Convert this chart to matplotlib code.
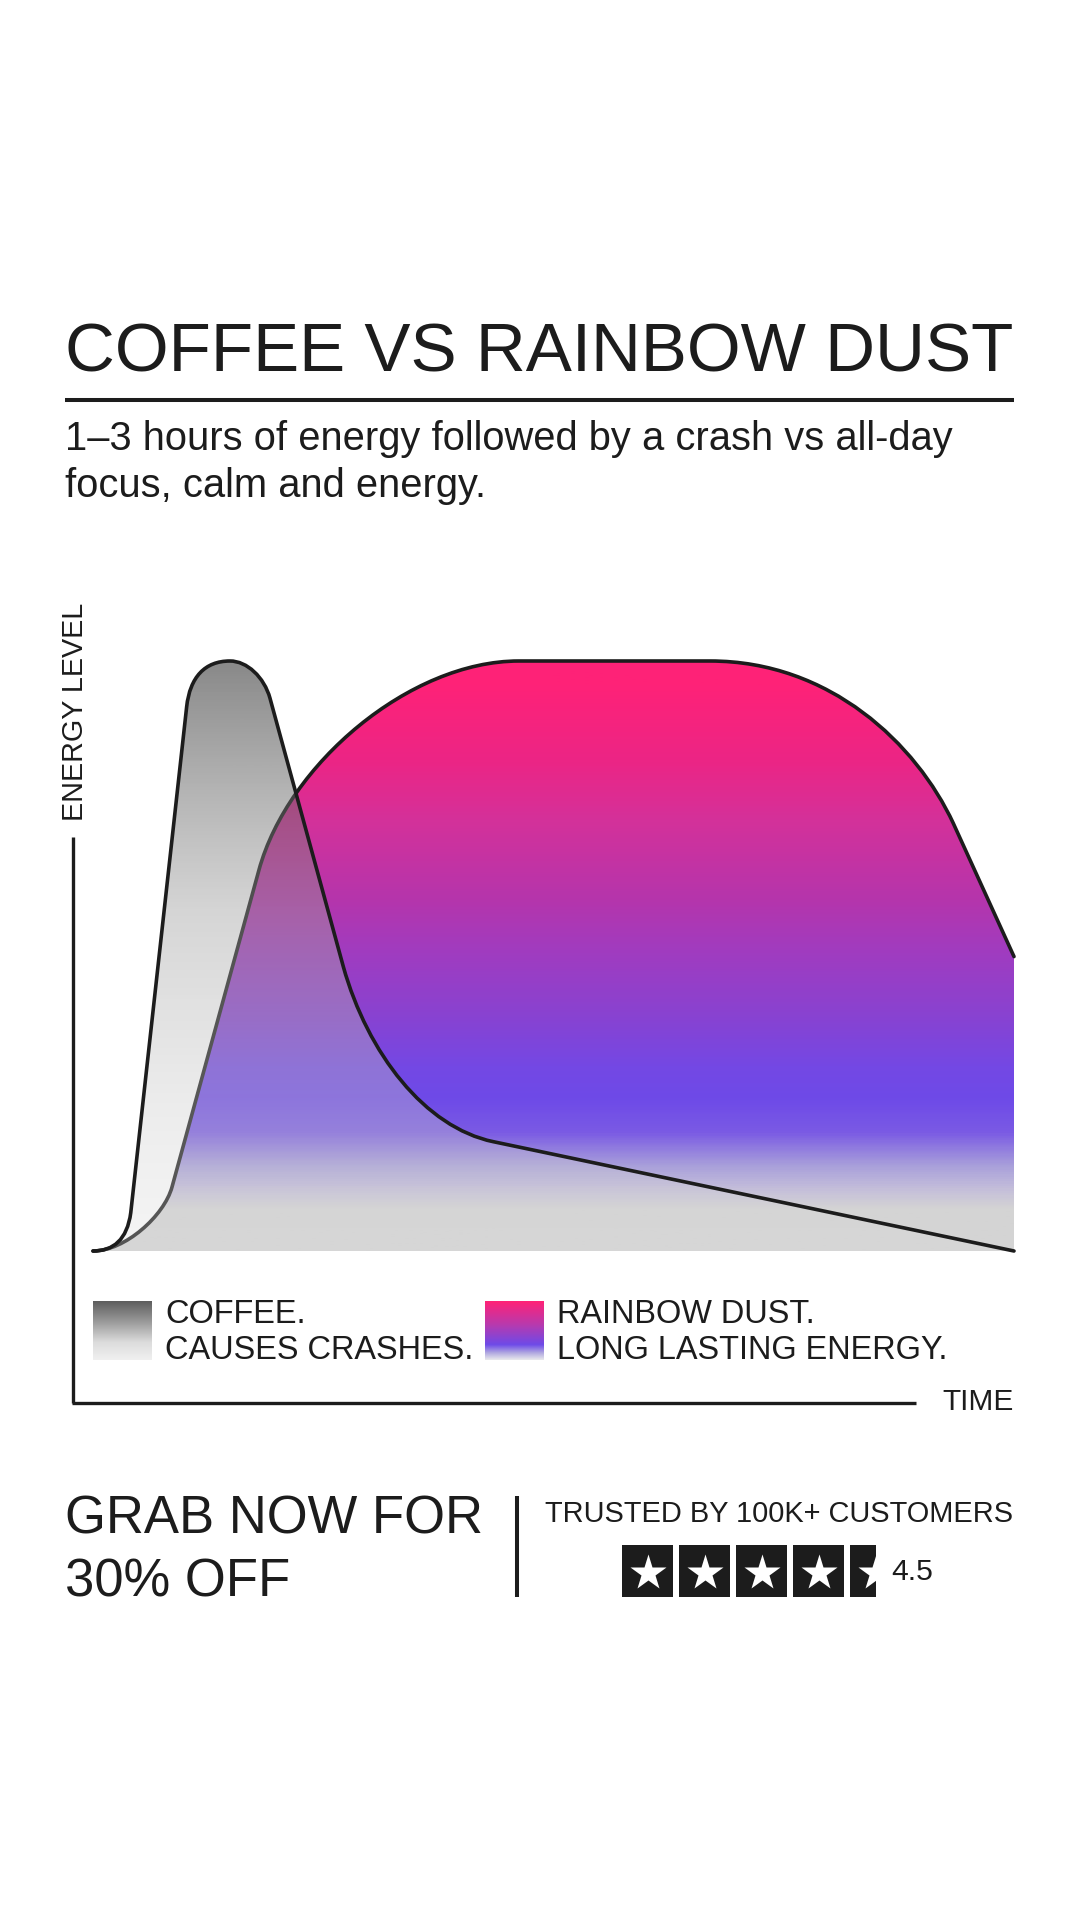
import numpy as np
import matplotlib
matplotlib.use("Agg")
import matplotlib.pyplot as plt
from matplotlib.path import Path
from matplotlib.patches import PathPatch, Rectangle
from matplotlib.colors import LinearSegmentedColormap

plt.rcParams["font.family"] = ["Liberation Sans", "DejaVu Sans"]
INK = "#1c1c1c"

# ── data: curve outlines as (time, energy) control points, 0..100 ──
# codes: M = move, L = line, C = cubic bezier control/end point
coffee_time = [0, 2.2, 3.7, 4.1, 10.17, 10.53, 12.16, 14.87, 16.72, 18.58, 19.22,
               27.18, 29.82, 36.03, 43.46, 100]
coffee_energy = [0, 0, 1.9, 6.5, 92.25, 97.3, 100, 100, 100, 97.27, 93.68,
                 48.19, 33.49, 20.95, 18.53, 0]
coffee_codes = "MCCCLCCCCCCLCCCL"

rainbow_time = [0, 3.47, 7.72, 8.58, 18.02, 21.17, 34.42, 46.24, 67.0, 80.02, 89.4,
                93.41, 100]
rainbow_energy = [0, 0, 5.95, 10.85, 64.58, 82.54, 100, 100, 100, 100, 85.93,
                  72.49, 49.9]
rainbow_codes = "MCCCLCCCLCCCL"

title = "COFFEE VS RAINBOW DUST"
subtitle = ["1\u20133 hours of energy followed by a crash vs all-day",
            "focus, calm and energy."]
y_label = "ENERGY LEVEL"
x_label = "TIME"
legend_lines = [["COFFEE.", "CAUSES CRASHES."],
                ["RAINBOW DUST.", "LONG LASTING ENERGY."]]
offer_lines = ["GRAB NOW FOR", "30% OFF"]
trust_text = "TRUSTED BY 100K+ CUSTOMERS"
rating = 4.5
n_stars = 5

# gradient stops (position from bottom, colour)
rainbow_stops = [(0.0, "#d4d4d4"), (0.069, "#d4d4d4"), (0.103, "#c4beda"),
                 (0.142, "#a9a0da"), (0.20, "#7a5ae4"), (0.256, "#6e4ae8"),
                 (0.312, "#7448e4"), (0.403, "#8a42d0"), (0.505, "#a03cc0"),
                 (0.595, "#b535ac"), (0.73, "#d4319a"), (0.832, "#ec2585"),
                 (0.958, "#fe2278"), (1.0, "#ff2277")]
# coffee layer: grey value + alpha, so it looks opaque on white and tints the pink
coffee_stops = [(0.0, 222, 0.30), (0.25, 201, 0.35), (0.57, 157, 0.42),
                (0.80, 97, 0.50), (1.0, 39, 0.55)]

CODE = {"M": Path.MOVETO, "L": Path.LINETO, "C": Path.CURVE4}


def make_path(xs, ys, codes, close_to=None):
    verts = list(zip(xs, ys))
    cds = [CODE[c] for c in codes]
    if close_to is not None:
        verts += [close_to, verts[0]]
        cds += [Path.LINETO, Path.CLOSEPOLY]
    return Path(verts, cds)


fig = plt.figure(figsize=(10.8, 19.2), dpi=100)
fig.patch.set_facecolor("white")

ui = fig.add_axes([0, 0, 1, 1])
ui.set_autoscale_on(False)
ui.set_xlim(0, 1080)
ui.set_ylim(1920, 0)
ui.axis("off")

ax = fig.add_axes([93 / 1080, 1 - 1251 / 1920, 921 / 1080, 590 / 1920])
ax.set_xlim(0, 100)
ax.set_ylim(0, 100)
ax.axis("off")
ax.patch.set_alpha(0)

grad = np.linspace(0, 1, 600).reshape(-1, 1)

# rainbow fill + outline
rb_fill = make_path(rainbow_time, rainbow_energy, rainbow_codes, close_to=(100, 0))
rb_line = make_path(rainbow_time, rainbow_energy, rainbow_codes)
cmap_rb = LinearSegmentedColormap.from_list("rb", rainbow_stops)
im = ax.imshow(grad, extent=[0, 100, 0, 100], origin="lower", aspect="auto",
               cmap=cmap_rb, vmin=0, vmax=1, interpolation="bilinear", zorder=1)
im.set_clip_path(rb_fill, transform=ax.transData)
ax.add_patch(PathPatch(rb_line, facecolor="none", edgecolor=INK, lw=2.6,
                       joinstyle="round", capstyle="round", clip_on=False, zorder=2))

# coffee fill (semi transparent) + outline
cf_fill = make_path(coffee_time, coffee_energy, coffee_codes, close_to=(0, 0))
cf_line = make_path(coffee_time, coffee_energy, coffee_codes)
cmap_cf = LinearSegmentedColormap.from_list(
    "cf", [(p, (g / 255, g / 255, g / 255, a)) for p, g, a in coffee_stops])
im2 = ax.imshow(grad, extent=[0, 100, 0, 100], origin="lower", aspect="auto",
                cmap=cmap_cf, vmin=0, vmax=1, interpolation="bilinear", zorder=3)
im2.set_clip_path(cf_fill, transform=ax.transData)
ax.add_patch(PathPatch(cf_line, facecolor="none", edgecolor=INK, lw=2.6,
                       joinstyle="round", capstyle="round", clip_on=False, zorder=4))

# ── texts and decoration (pixel coordinates) ──
fig.canvas.draw()
renderer = fig.canvas.get_renderer()


def fit(t, target):
    w = t.get_window_extent(renderer).width
    t.set_fontsize(t.get_fontsize() * target / w)
    return t.get_fontsize()


def txt(x, y, s, size, **kw):
    return ui.text(x, y, s, fontsize=size, color=INK, va="baseline", **kw)


t = txt(65, 372, title, 50)
fit(t, 949)
ui.plot([65, 1014], [400, 400], color=INK, lw=2.9, solid_capstyle="butt")

s1 = txt(65, 450, subtitle[0], 25)
fs = fit(s1, 888)
txt(65, 496.7, subtitle[1], fs)

t = ui.text(83.3, 820.7, y_label, fontsize=20, color=INK, rotation=90,
            rotation_mode="anchor", ha="left", va="baseline")
t.set_fontsize(20 * 218 / t.get_window_extent(renderer).height)

ui.plot([73.3, 73.3], [837, 1403.3], color=INK, lw=2.4, solid_capstyle="butt")
ui.plot([72.1, 916], [1403.3, 1403.3], color=INK, lw=2.4, solid_capstyle="butt")
t = txt(1014, 1410, x_label, 18, ha="right")
fit(t, 71)

# legend
sw_coffee = LinearSegmentedColormap.from_list(
    "swc", [(0, "#5e5e5e"), (0.35, "#9a9a9a"), (0.7, "#dcdcdc"), (1, "#f0f0f0")])
sw_rainbow = LinearSegmentedColormap.from_list(
    "swr", [(0, "#ff2277"), (0.4, "#b83aae"), (0.74, "#6e4ae8"), (0.88, "#b0a8e0"),
            (1, "#e8e8ec")])
sw_grad = np.linspace(0, 1, 200).reshape(-1, 1)
for x0, cm in [(92.7, sw_coffee), (485, sw_rainbow)]:
    ui.imshow(sw_grad, extent=(x0, x0 + 59, 1360, 1301), origin="upper",
              aspect="auto", cmap=cm, vmin=0, vmax=1, interpolation="bilinear")

a = txt(165, 1359.3, legend_lines[0][1], 22)
b = txt(557, 1359.3, legend_lines[1][1], 22)
fs = (fit(a, 304) + fit(b, 396)) / 2
for t in (a, b):
    t.set_fontsize(fs)
txt(165, 1322.7, legend_lines[0][0], fs)
txt(557, 1322.7, legend_lines[1][0], fs)

# bottom offer
g = txt(65, 1534, offer_lines[0], 36)
fs = fit(g, 418)
txt(65, 1596.5, offer_lines[1], fs)
ui.plot([517.3, 517.3], [1496, 1596.7], color=INK, lw=2.9, solid_capstyle="butt")

t = txt(545, 1521.7, trust_text, 22)
fit(t, 469)

box_w, box_h, step, bx0, by0 = 51.6, 52.3, 57.0, 621.7, 1545
for i in range(n_stars):
    part = min(1.0, max(0.0, rating - i))
    if part <= 0:
        continue
    x0 = bx0 + i * step
    rect = Rectangle((x0, by0), box_w * part, box_h, facecolor=INK, edgecolor="none")
    ui.add_patch(rect)
    star, = ui.plot(x0 + box_w / 2, by0 + box_h / 2 + 1.5, marker="*", ms=27,
                    color="white", mec="none", linestyle="none")
    star.set_clip_path(rect)

t = txt(891.7, 1580, f"{rating}", 22)
fit(t, 41.6)

ui.set_xlim(0, 1080)
ui.set_ylim(1920, 0)

fig.savefig("out.png", dpi=100, facecolor="white")
